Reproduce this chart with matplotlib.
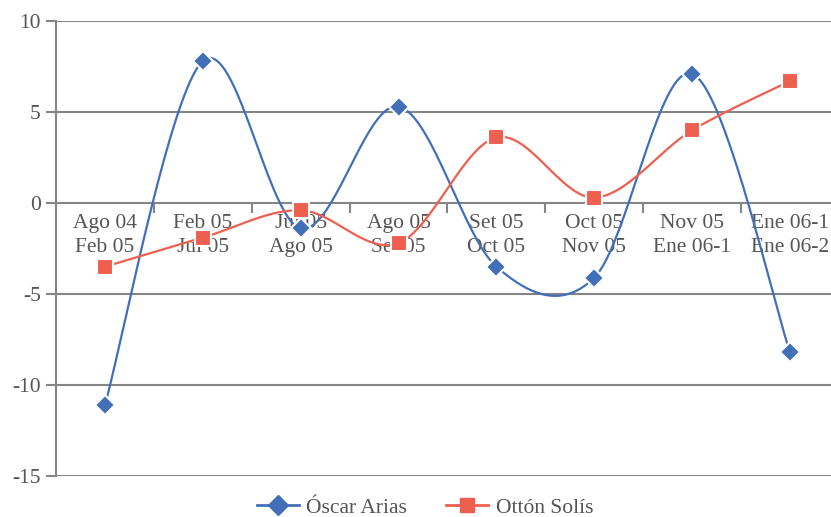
import numpy as np
import matplotlib
matplotlib.use("Agg")
import matplotlib.pyplot as plt
from matplotlib.lines import Line2D

plt.rcParams['font.family'] = ['Liberation Serif', 'DejaVu Serif']

periods = ["Ago 04\nFeb 05", "Feb 05\nJul 05", "Jul 05\nAgo 05", "Ago 05\nSet 05",
           "Set 05\nOct 05", "Oct 05\nNov 05", "Nov 05\nEne 06-1", "Ene 06-1\nEne 06-2"]
arias = [-11.1, 7.8, -1.4, 5.3, -3.5, -4.1, 7.1, -8.2]
solis = [-3.5, -1.9, -0.4, -2.2, 3.6, 0.3, 4.0, 6.7]

BLUE = "#4170b8"
RED = "#ef5f50"
TXT = "#555555"
GRID = "#858585"


def smooth(y, n=40):
    # excel-like smoothed line (catmull-rom through the points)
    y = np.asarray(y, float)
    x = np.arange(len(y), dtype=float)
    xs, ys = [], []
    for i in range(len(y) - 1):
        i0 = max(i - 1, 0)
        i3 = min(i + 2, len(y) - 1)
        p0 = np.array([x[i0], y[i0]])
        p1 = np.array([x[i], y[i]])
        p2 = np.array([x[i + 1], y[i + 1]])
        p3 = np.array([x[i3], y[i3]])
        b1 = p1 + (p2 - p0) / 6
        b2 = p2 - (p3 - p1) / 6
        t = np.linspace(0, 1, n)[:, None]
        pts = (1 - t) ** 3 * p1 + 3 * (1 - t) ** 2 * t * b1 + 3 * (1 - t) * t ** 2 * b2 + t ** 3 * p2
        xs.extend(pts[:, 0])
        ys.extend(pts[:, 1])
    return np.array(xs), np.array(ys)


fig = plt.figure(figsize=(8.31, 5.17), dpi=100)
ax = fig.add_axes([56 / 831, 41 / 517, 783 / 831, 455 / 517])

ax.set_xlim(-0.5, len(periods) - 0.5)
ax.set_ylim(-15, 10)

for yv in [10, 5, -5, -10, -15]:
    ax.axhline(yv, color=GRID, lw=1.5, zorder=1)

for s in ["top", "right"]:
    ax.spines[s].set_visible(False)
ax.spines["left"].set_color(GRID)
ax.spines["left"].set_linewidth(1.5)
ax.spines["bottom"].set_position(("data", 0))
ax.spines["bottom"].set_color(GRID)
ax.spines["bottom"].set_linewidth(1.5)

xx = np.arange(len(periods))
ax.set_xticks(xx[:-1] + 0.5)
ax.set_xticklabels([])
ax.set_xticks(xx, minor=True)
ax.set_xticklabels(periods, minor=True, fontsize=15.5, color=TXT, linespacing=1.35)
ax.tick_params(axis="x", which="major", direction="out", length=7, width=1.5, color=GRID)
ax.tick_params(axis="x", which="minor", length=0, pad=8)

ax.set_yticks([10, 5, 0, -5, -10, -15])
ax.set_yticklabels(["10", "5", "0", "-5", "-10", "-15"])
ax.tick_params(axis="y", direction="out", length=7, width=1.5, color=GRID,
               labelsize=15.5, labelcolor=TXT, pad=4)

sx, sy = smooth(arias)
ax.plot(sx, sy, color=BLUE, lw=1.6, zorder=3)
ax.plot(xx, arias, ls="none", marker="D", ms=10, color=BLUE, mec="white", mew=1.5, zorder=4)

sx, sy = smooth(solis)
ax.plot(sx, sy, color=RED, lw=1.6, zorder=3)
ax.plot(xx, solis, ls="none", marker="s", ms=11, color=RED, mec="white", mew=1.5, zorder=4)

handles = [Line2D([], [], color=BLUE, lw=2, marker="D", ms=10),
           Line2D([], [], color=RED, lw=2, marker="s", ms=10)]
fig.legend(handles, ["Óscar Arias", "Ottón Solís"], loc="center", bbox_to_anchor=(425 / 831, 9 / 517),
           ncol=2, frameon=False, fontsize=15.5, labelcolor=TXT, handlelength=1.95,
           handletextpad=0.35, columnspacing=1.8)

fig.savefig("out.png", dpi=100)
